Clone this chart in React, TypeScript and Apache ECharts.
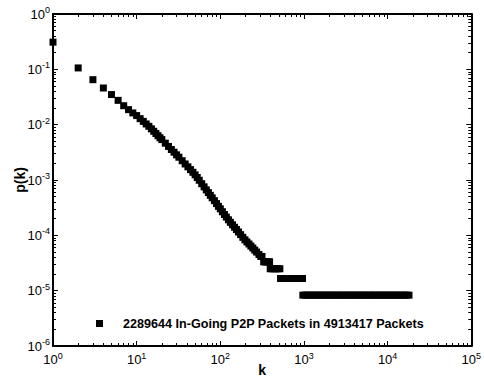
import React, { useEffect, useRef } from "react";
import * as echarts from "echarts";

const seriesName = "2289644 In-Going P2P Packets in 4913417 Packets";

const kValues: number[] = [
  1, 2, 3, 4, 5, 6, 7, 8, 9, 10, 11, 12, 13, 14, 15, 16, 17, 18, 19, 20,
  22, 24, 26, 28, 30, 32, 35, 38, 41, 44, 47, 50, 53, 56, 60, 64, 68, 72, 76, 80,
  85, 90, 95, 100, 106, 112, 118, 125, 132, 140, 148, 156, 165, 175, 186, 197,
  208, 220, 232, 245, 258, 272, 290, 305, 315,
  330, 345, 360, 375, 388,
  395, 415, 440, 465, 490, 515,
  525, 560, 600, 640, 690, 740, 790, 850, 910, 960,
  970, 1040, 1110, 1190, 1270, 1360, 1460, 1560, 1670, 1790, 1910, 2050, 2190, 2350,
  2510, 2690, 2880, 3080, 3300, 3530, 3780, 4040, 4330, 4630, 4960, 5300, 5680, 6080,
  6500, 6960, 7450, 7970, 8530, 9130, 9770, 10460, 11190, 11970, 12810, 13710, 14670,
  15700, 16800, 18000,
];

const pValues: number[] = [
  0.31, 0.106, 0.065, 0.046, 0.035, 0.0275, 0.022, 0.0187, 0.0163, 0.0146,
  0.01285, 0.01146, 0.0103, 0.00933, 0.00841, 0.0076, 0.00692, 0.00632, 0.00581, 0.00537,
  0.00463, 0.00404, 0.00356, 0.00318, 0.00285, 0.00258, 0.00223, 0.00195, 0.00173, 0.00154,
  0.00138, 0.00124, 0.00111, 0.000989, 0.000857, 0.000752, 0.000662, 0.000592, 0.000528, 0.000476,
  0.000423, 0.000375, 0.000334, 0.000301, 0.000267, 0.000238, 0.000214, 0.000191,
  0.000172, 0.000155, 0.00014, 0.000127, 0.000115, 0.000103, 0.000092, 0.000083,
  0.000076, 0.0000698, 0.000064, 0.000059, 0.000054, 0.0000498, 0.000045, 0.0000415, 0.0000415,
  0.0000332, 0.0000332, 0.0000332, 0.0000332, 0.0000332,
  0.0000249, 0.0000249, 0.0000249, 0.0000249, 0.0000249, 0.0000249,
  0.0000166, 0.0000166, 0.0000166, 0.0000166, 0.0000166, 0.0000166, 0.0000166, 0.0000166, 0.0000166, 0.0000166,
  0.0000083, 0.0000083, 0.0000083, 0.0000083, 0.0000083, 0.0000083, 0.0000083, 0.0000083, 0.0000083, 0.0000083,
  0.0000083, 0.0000083, 0.0000083, 0.0000083, 0.0000083, 0.0000083, 0.0000083, 0.0000083, 0.0000083, 0.0000083,
  0.0000083, 0.0000083, 0.0000083, 0.0000083, 0.0000083, 0.0000083, 0.0000083, 0.0000083, 0.0000083, 0.0000083,
  0.0000083, 0.0000083, 0.0000083, 0.0000083, 0.0000083, 0.0000083, 0.0000083, 0.0000083, 0.0000083, 0.0000083,
  0.0000083, 0.0000083, 0.0000083, 0.0000083,
];

const FONT = "'Liberation Sans', Arial, Helvetica, sans-serif";

const powLabel = (v: number) => {
  const e = Math.round(Math.log10(v));
  return `{b|10}{e|${e}}`;
};

const richLabel = {
  b: { fontSize: 13, lineHeight: 17, fontFamily: FONT, color: "#000" },
  e: { fontSize: 9, fontFamily: FONT, color: "#000", verticalAlign: "top" },
};

const axisCommon = (show: boolean) => ({
  axisLine: { show: true, onZero: false, lineStyle: { color: "#000", width: 2 } },
  axisTick: { show: true, inside: true, length: 5, lineStyle: { color: "#000", width: 1 } },
  minorTick: { show: true, splitNumber: 9, length: 3, lineStyle: { color: "#000", width: 1 } },
  splitLine: { show: false },
  minorSplitLine: { show: false },
  axisLabel: show
    ? { show: true, formatter: powLabel, rich: richLabel }
    : { show: false },
});

export default function App() {
  const ref = useRef<HTMLDivElement>(null);
  useEffect(() => {
    if (!ref.current) return;
    const chart = echarts.init(ref.current, undefined, { renderer: "svg" });
    const data = kValues.map((k, i) => [k, pValues[i]]);
    chart.setOption({
      animation: false,
      backgroundColor: "#fff",
      grid: { left: 53, right: 9, top: 14, bottom: 39, containLabel: false },
      legend: {
        left: 96,
        top: 317,
        padding: 0,
        icon: "rect",
        itemWidth: 7,
        itemHeight: 7,
        itemGap: 0,
        itemStyle: { opacity: 1 },
        textStyle: {
          fontFamily: FONT,
          fontSize: 12.6,
          fontWeight: "bold",
          color: "#000",
          padding: [0, 0, 0, 15],
        },
        data: [seriesName],
      },
      xAxis: [
        {
          type: "log",
          logBase: 10,
          min: 1,
          max: 100000,
          position: "bottom",
          name: "k",
          nameLocation: "middle",
          nameGap: 17,
          nameMoveOverlap: false,
          nameTextStyle: { fontFamily: FONT, fontSize: 14, fontWeight: "bold", color: "#000" },
          ...axisCommon(true),
          axisLabel: { show: true, formatter: powLabel, rich: richLabel, margin: 5 },
        },
        {
          type: "log",
          logBase: 10,
          min: 1,
          max: 100000,
          position: "top",
          ...axisCommon(false),
        },
      ],
      yAxis: [
        {
          type: "log",
          logBase: 10,
          min: 0.000001,
          max: 1,
          position: "left",
          name: "p(k)",
          nameLocation: "middle",
          nameGap: 26,
          nameMoveOverlap: false,
          nameTextStyle: { fontFamily: FONT, fontSize: 14, fontWeight: "bold", color: "#000" },
          ...axisCommon(true),
          axisLabel: { show: true, formatter: powLabel, rich: richLabel, margin: 3 },
        },
        {
          type: "log",
          logBase: 10,
          min: 0.000001,
          max: 1,
          position: "right",
          ...axisCommon(false),
        },
      ],
      series: [
        {
          name: seriesName,
          type: "scatter",
          xAxisIndex: 0,
          yAxisIndex: 0,
          symbol: "rect",
          symbolSize: 7,
          itemStyle: { color: "#000", opacity: 1 },
          data,
        },
      ],
    });
    return () => chart.dispose();
  }, []);
  return (
    <div
      ref={ref}
      style={{ position: "fixed", left: 0, top: 0, width: 484, height: 385 }}
    />
  );
}
